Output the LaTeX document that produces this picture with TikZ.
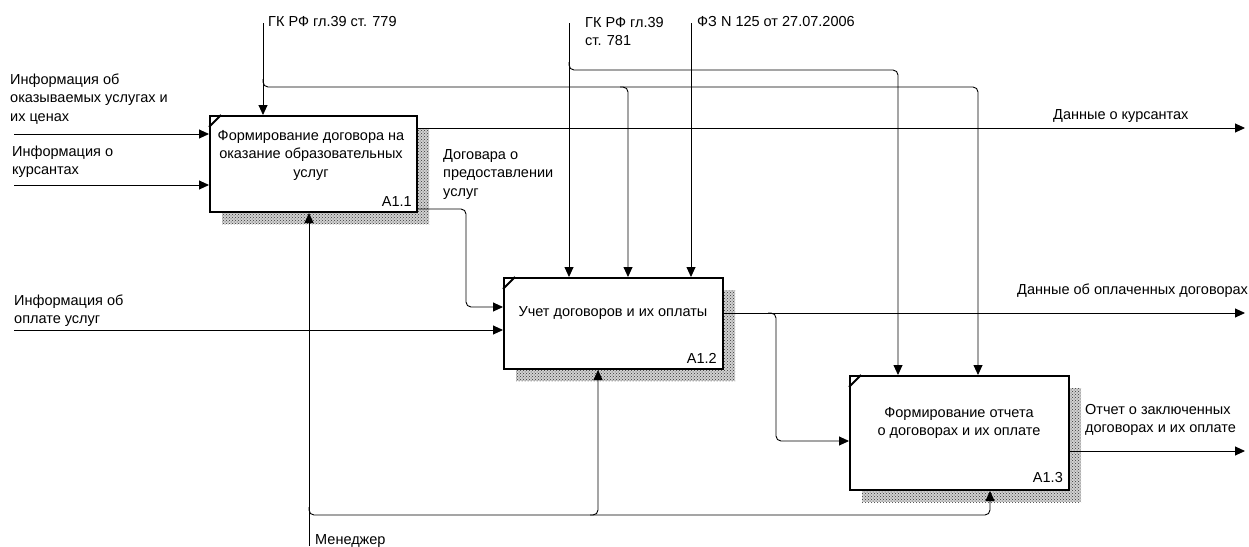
\documentclass[tikz,border=0pt]{standalone}
\usepackage{fontspec}
\setmainfont{Liberation Sans}
\usetikzlibrary{arrows.meta,patterns,shadows}

\tikzset{
  x=1pt, y=-1pt,
  every node/.style={font=\fontsize{14.5}{18.5}\selectfont},
  flow/.style={line width=0.9pt, rounded corners=5pt},
  arr/.style={flow, -{Triangle[length=10pt,width=9pt]}},
  proc/.style={draw, line width=2pt, fill=white, inner sep=0pt,
    general shadow={shadow xshift=12pt, shadow yshift=-12pt, fill=black!18},
    general shadow={shadow xshift=12pt, shadow yshift=-12pt,
      pattern=crosshatch dots, pattern color=black!80}},
  lbl/.style={anchor=base west, inner sep=0pt, align=left},
  ttl/.style={inner sep=0pt, align=center},
  num/.style={anchor=east, inner sep=0pt},
  corner/.style={line width=1.8pt},
}

\begin{document}
\begin{tikzpicture}
\useasboundingbox (0,0) rectangle (1249,546);

% activity boxes
\node[proc, minimum width=207pt, minimum height=96pt] (b1) at (313.5,164) {};
\node[proc, minimum width=219pt, minimum height=91pt] (b2) at (613.5,323.5) {};
\node[proc, minimum width=219pt, minimum height=114pt] (b3) at (959.5,433) {};

% corner ticks
\foreach \b in {b1,b2,b3}
  \draw[corner] ([shift={(12,0)}]\b.north west) -- ([shift={(0,12)}]\b.north west);

% box titles and numbers
\node[ttl] (t1) at (311,155) {Формирование договора на\\оказание образовательных\\услуг};
\node[ttl] (t2) at (613,313) {Учет договоров и их оплаты};
\node[ttl] (t3) at (959,423) {Формирование отчета\\о договорах и их оплате};
\node[num] (n1) at (412,202) {A1.1};
\node[num] (n2) at (717,358) {A1.2};
\node[num] (n3) at (1063,478) {A1.3};

% free ends
\coordinate (i1) at (14,134);
\coordinate (i2) at (14,185);
\coordinate (i3) at (14,330);
\coordinate (o1) at (1245,128);
\coordinate (o2) at (1245,313);
\coordinate (o3) at (1245,451);
\coordinate (c1) at (263,23);
\coordinate (c2) at (569,23);
\coordinate (c3) at (691,23);
\coordinate (m1) at (309,546);

% inputs
\draw[arr] (i1) -- (i1 -| b1.west);
\draw[arr] (i2) -- (i2 -| b1.west);
\draw[arr] (i3) -- (i3 -| b2.west);

% outputs
\draw[arr] (b1.east |- o1) -- (o1);
\draw[arr] (b2.east |- o2) -- (o2);
\draw[arr] (b3.east |- o3) -- (o3);
\draw[arr] (b1.east |- 0,209) -- (466,209) -- (466,307) -- (b2.west |- 0,307);
\draw[arr] (768,313) -- (776,313) -- (776,441) -- (b3.west |- 0,441);

% controls
\draw[arr] (c1) -- (c1 |- b1.north);
\draw[arr] (263,79) -- (263,87) -- (628,87) -- (628,87 |- b2.north);
\draw[arr] (620,87) -- (978,87) -- (978,87 |- b3.north);
\draw[arr] (c2) -- (c2 |- b2.north);
\draw[arr] (569,62) -- (569,70) -- (898,70) -- (898,70 |- b3.north);
\draw[arr] (c3) -- (c3 |- b2.north);

% mechanism
\draw[arr] (m1) -- (m1 |- b1.south);
\draw[arr] (309,507) -- (309,515) -- (598,515) -- (598,515 |- b2.south);
\draw[arr] (590,515) -- (990,515) -- (990,515 |- b3.south);

% arrow labels (base anchor = baseline of the last line)
\node[lbl] (li1) at (10,121) {Информация об\\оказываемых услугах и\\их ценах};
\node[lbl] (li2) at (12,174.5) {Информация о\\курсантах};
\node[lbl] (li3) at (14,323.5) {Информация об\\оплате услуг};
\node[lbl] (lc1) at (268,27) {ГК РФ гл.39 ст. 779};
\node[lbl] (lc2) at (585,45.5) {ГК РФ гл.39\\ст. 781};
\node[lbl] (lc3) at (697,27) {ФЗ N 125 от 27.07.2006};
\node[lbl] (ld) at (443,196) {Договара о\\предоставлении\\услуг};
\node[lbl] (lo1) at (1053,119) {Данные о курсантах};
\node[lbl] (lo2) at (1017,294) {Данные об оплаченных договорах};
\node[lbl] (lo3) at (1085,432.5) {Отчет о заключенных\\договорах и их оплате};
\node[lbl] (lm) at (315,544) {Менеджер};
\end{tikzpicture}
\end{document}
